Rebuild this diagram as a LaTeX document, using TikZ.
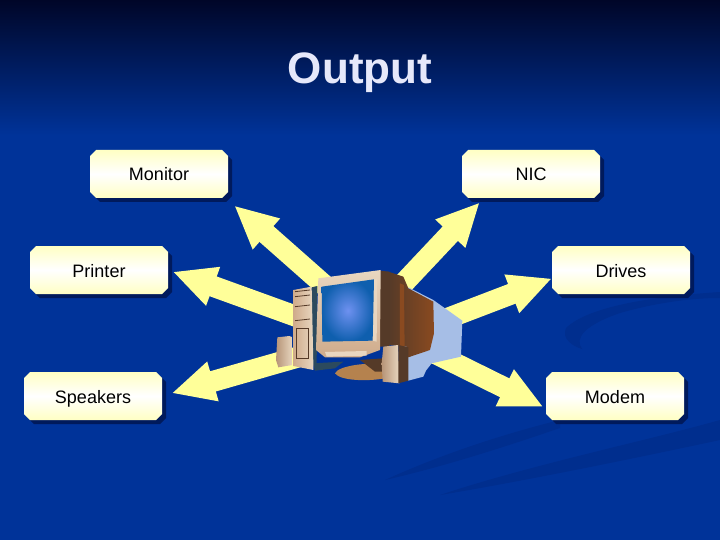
\documentclass[tikz,border=0pt]{standalone}
\usepackage{fontspec}
\setsansfont{Liberation Sans}
\usetikzlibrary{shapes.misc, arrows.meta, positioning, shadows}
\tikzset{every picture/.style={/utils/exec={\sffamily}}}
\definecolor{SlideBlue}{HTML}{003399}
\definecolor{SlideTop}{HTML}{000628}
\definecolor{SwooshBlue}{HTML}{002E8E}
\definecolor{ArrowYellow}{HTML}{FFFF99}
\definecolor{BoxEdge}{HTML}{FFFFC4}
\definecolor{BoxShadow}{HTML}{001A5C}
\definecolor{TitleLilac}{HTML}{E6E8FA}
\definecolor{PcTan}{HTML}{CFAB8B}
\definecolor{PcPale}{HTML}{E8D6C0}
\definecolor{PcBrown}{HTML}{8A4A20}
\definecolor{PcDark}{HTML}{553A28}
\definecolor{PcStand}{HTML}{B5824E}
\definecolor{PcShade}{HTML}{A6BEE6}
\definecolor{PcTeal}{HTML}{2C4A5E}
\definecolor{ScreenGlow}{HTML}{6E91F0}
\definecolor{ScreenBlue}{HTML}{0F5FAE}

\begin{document}
\begin{tikzpicture}[
			x=1pt, y=-1pt,
			outbox/.style={chamfered rectangle,chamfered rectangle xsep=3pt,chamfered rectangle ysep=3pt,
				minimum width=138pt,minimum height=48pt,inner sep=0pt,outer sep=0pt,
				text height=16pt,text depth=2pt,font=\fontsize{18}{20}\selectfont,
				top color=BoxEdge,bottom color=BoxEdge,middle color=white,
				copy shadow={shadow xshift=4pt,shadow yshift=-4pt,fill=BoxShadow,draw=none}},
			bigarrow/.style={draw=ArrowYellow,line width=21pt,-{Triangle[length=43pt,width=38pt]}}
		]
		\useasboundingbox (0,0) rectangle (720,540);
		\fill[SlideBlue] (0,0) rectangle (720,540);
		\shade[top color=SlideTop,bottom color=SlideBlue] (0,0) rectangle (720,135);
		\fill[SwooshBlue] (720,292) .. controls (660,296) and (590,305) .. (566,328) .. controls (562,338) and (570,345) .. (582,349)
			.. controls (574,338) and (585,325) .. (620,313) .. controls (655,303) and (690,298) .. (720,298) -- cycle;
		\fill[SwooshBlue] (720,420) .. controls (650,440) and (530,465) .. (440,495) .. controls (530,480) and (650,455) .. (720,440) -- cycle;
		\fill[SwooshBlue] (560,420) .. controls (500,435) and (440,455) .. (385,480) .. controls (450,465) and (510,445) .. (560,428) -- cycle;

		\node (title) [text=TitleLilac,font=\bfseries\fontsize{44}{48}\selectfont] at (360,73) {Output};
		\node (monitor) [outbox] at (159,174) {Monitor};
		\node (nic) [outbox,right=234pt of monitor] {NIC};
		\node (printer) [outbox,below=48pt of monitor,xshift=-60pt] {Printer};
		\node (drives) [outbox,below=48pt of nic,xshift=90pt] {Drives};
		\node (speakers) [outbox,below=78pt of printer,xshift=-6pt] {Speakers};
		\node (modem) [outbox,below=78pt of drives,xshift=-6pt] {Modem};

		\coordinate (pcMonitor) at (340,299);
		\coordinate (pcPrinter) at (320,325);
		\coordinate (pcSpeakers) at (305,355);
		\coordinate (pcNic) at (385,303);
		\coordinate (pcDrives) at (425,327);
		\coordinate (pcModem) at (420,346);
		\draw[bigarrow,shorten >=14pt] (pcMonitor) -- (monitor.-19);
		\draw[bigarrow,shorten >=5pt] (pcPrinter) -- (printer.east);
		\draw[bigarrow,shorten >=10pt] (pcSpeakers) -- (speakers.east);
		\draw[bigarrow,shorten >=6pt] (pcNic) -- (nic.207.5);
		\draw[bigarrow] (pcDrives) -- (drives.187.4);
		\draw[bigarrow,shorten >=3pt] (pcModem) -- (modem.190.3);

		\begin{scope}[shift={(260,250)},x=0.3333pt,y=-0.3333pt]
			\fill[PcShade] (445,112) -- (520,150) -- (607,212) -- (603,320) -- (515,340) -- (498,362) -- (490,380) -- (445,392) -- (420,300) -- cycle;
			\shade[left color=PcDark,right color=PcBrown] (385,65) -- (430,80) -- (445,115) -- (520,155) -- (522,250) -- (510,300) -- (445,322) -- (440,290) -- (385,285) -- cycle;
			\fill[PcDark] (360,62) -- (388,65) -- (388,290) -- (360,290) -- cycle;
			\fill[PcBrown] (420,100) -- (432,105) -- (434,300) -- (420,305) -- cycle;
			\fill[PcStand] (225,370) .. controls (235,345) and (340,335) .. (375,345) -- (375,385) .. controls (320,395) and (240,392) .. (225,370) -- cycle;
			\fill[PcDark] (300,330) -- (370,325) -- (370,365) -- (345,365) -- cycle;
			\fill[PcTeal] (158,340) -- (250,335) -- (225,355) -- (165,362) -- cycle;
			\fill[PcTeal] (155,112) -- (172,108) -- (170,345) -- (158,345) -- cycle;
			\shade[left color=PcTan,right color=PcPale] (100,120) -- (155,110) -- (160,340) -- (160,360) -- (100,348) -- cycle;
			\foreach \y in {125,140,170,212} {
				\draw[PcDark,line width=0.8pt] (105,\y) -- (150,\y-5);
			}
			\draw[PcDark,line width=0.7pt] (108,235) rectangle (146,325);
			\shade[left color=PcTan!80!PcDark,right color=PcPale] (52,262) -- (88,258) -- (98,262) -- (98,345) -- (55,352) -- (48,330) -- cycle;
			\shade[top color=PcPale,bottom color=PcTan] (175,85) -- (362,60) -- (360,300) -- (300,322) -- (195,322) -- (168,300) -- cycle;
			\fill[PcPale] (195,306) -- (320,303) -- (320,317) -- (200,320) -- cycle;
			\fill[PcPale] (342,88) -- (352,85) -- (350,275) -- (338,272) -- cycle;
			\shade[inner color=ScreenGlow,outer color=ScreenBlue] (185,110) -- (342,88) -- (338,272) -- (187,275) -- cycle;
			\shade[left color=PcTan!80!PcDark,right color=PcPale] (370,290) -- (415,285) -- (418,400) -- (368,395) -- (365,340) -- cycle;
			\fill[PcDark] (415,285) -- (445,292) -- (445,392) -- (415,400) -- cycle;
		\end{scope}
	\end{tikzpicture}
\end{document}
